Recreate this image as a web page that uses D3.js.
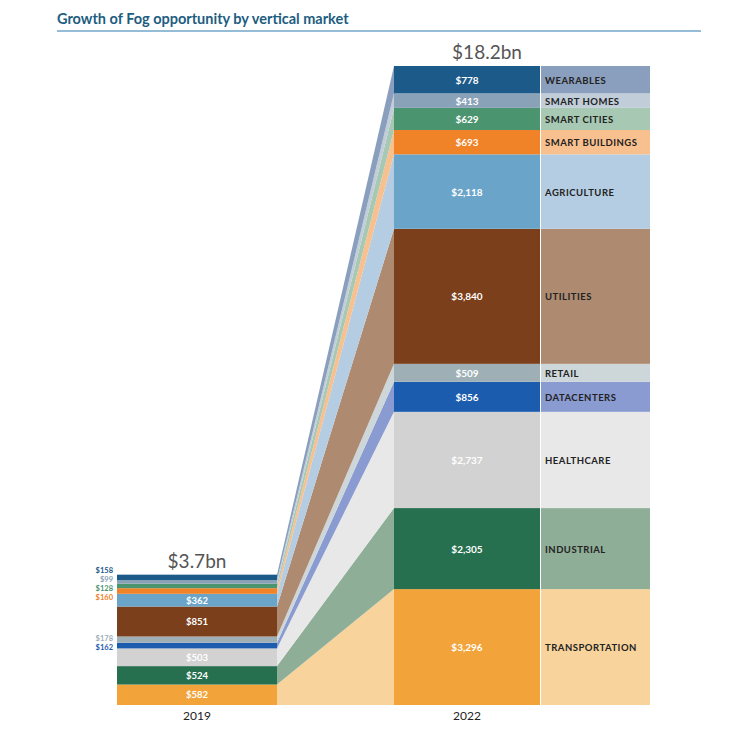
<!DOCTYPE html>
<html><head><meta charset="utf-8">
<script src="https://cdn.jsdelivr.net/npm/d3@7"></script>
<style>body{margin:0;background:#fff}</style></head>
<body><svg id="svg" width="740" height="740"></svg>
<script>
// bottom to top
var markets = ["TRANSPORTATION","INDUSTRIAL","HEALTHCARE","DATACENTERS","RETAIL","UTILITIES","AGRICULTURE","SMART BUILDINGS","SMART CITIES","SMART HOMES","WEARABLES"];
var v2019 = [582,524,503,162,178,851,362,160,128,99,158];
var v2022 = [3296,2305,2737,856,509,3840,2118,693,629,413,778];
var darkColours = ["#f2a33a","#27704f","#d2d2d2","#1b5cae","#9eb0b6","#7b3f1b","#6aa5c9","#f08328","#4b9470","#8aa2b7","#1c5a89"];
var lightColours = ["#f8d49c","#8fae98","#e8e8e8","#8a9bd2","#cdd6d9","#ae8a71","#b5cde2","#f9c08f","#a7c9b3","#c1ced9","#8a9ebd"];
var years = ["2019","2022"];
var totals = ["$3.7bn","$18.2bn"];

var svg = d3.select("#svg");
var fmt = d3.format(",");

svg.append("text").attr("x",57).attr("y",24).attr("font-family","Lato, sans-serif")
  .attr("font-weight","bold").attr("font-size",14.5).attr("fill","#1d5d80")
  .text("Growth of Fog opportunity by vertical market");
svg.append("line").attr("x1",57).attr("x2",701).attr("y1",31).attr("y2",31)
  .attr("stroke","#2a7bb0").attr("stroke-width",1);

var y = d3.scaleLinear().domain([0, d3.sum(v2022)]).range([705, 66]);

function stack(vals) {
  var acc = 0;
  return vals.map(function(v){ var s = acc; acc += v; return [s, acc]; });
}
var s19 = stack(v2019), s22 = stack(v2022);

var b19 = {x0:117, x1:277}, b22 = {x0:394, x1:540}, panel = {x0:540, x1:650};

// connecting bands
markets.forEach(function(m,i){
  var pts = [[b19.x1,y(s19[i][0])],[b22.x0,y(s22[i][0])],[b22.x0,y(s22[i][1])],[b19.x1,y(s19[i][1])]];
  svg.append("polygon").attr("points",pts.map(function(p){return p.join(",");}).join(" "))
    .attr("fill",lightColours[i]);
});

// 2019 bars
var outside = [];
markets.forEach(function(m,i){
  var top = y(s19[i][1]), bot = y(s19[i][0]);
  svg.append("rect").attr("x",b19.x0).attr("width",b19.x1-b19.x0)
    .attr("y",top).attr("height",bot-top).attr("fill",darkColours[i]);
  if (v2019[i] > 300) {
    svg.append("text").attr("x",(b19.x0+b19.x1)/2).attr("y",(top+bot)/2+3.5).attr("text-anchor","middle")
      .attr("font-family","Lato, sans-serif").attr("font-weight","bold").attr("font-size",9.5)
      .attr("fill","#fff").text("$"+fmt(v2019[i]));
  } else {
    outside.push({i:i, y:(top+bot)/2});
  }
});
// small labels left of the bar, grouped and spaced so they don't overlap
outside.sort(function(a,b){return a.y-b.y;});
var gap = 9, groups = [];
outside.forEach(function(o){
  var g = groups[groups.length-1];
  if (g && o.y - g[g.length-1].y < gap) g.push(o); else groups.push([o]);
});
groups.forEach(function(g){
  var mid = d3.mean(g, function(o){return o.y;});
  var start = mid - (g.length-1)*gap/2;
  g.forEach(function(o,k){
    svg.append("text").attr("x",113).attr("y",start + k*gap + 2.8).attr("text-anchor","end")
      .attr("font-family","Lato, sans-serif").attr("font-weight","bold").attr("font-size",7.5)
      .attr("fill",darkColours[o.i]).text("$"+fmt(v2019[o.i]));
  });
});

// 2022 bars + panel
markets.forEach(function(m,i){
  var top = y(s22[i][1]), bot = y(s22[i][0]);
  svg.append("rect").attr("x",b22.x0).attr("width",b22.x1-b22.x0)
    .attr("y",top).attr("height",bot-top).attr("fill",darkColours[i]);
  svg.append("rect").attr("x",panel.x0+1).attr("width",panel.x1-panel.x0-1)
    .attr("y",top).attr("height",bot-top).attr("fill",lightColours[i]);
  svg.append("text").attr("x",(b22.x0+b22.x1)/2).attr("y",(top+bot)/2+4)
    .attr("text-anchor","middle").attr("font-family","Lato, sans-serif").attr("font-weight","bold")
    .attr("font-size",10).attr("fill","#fff").text("$"+fmt(v2022[i]));
  svg.append("text").attr("x",panel.x0+5).attr("y",(top+bot)/2+4)
    .attr("font-family","Lato, sans-serif").attr("font-weight","bold").attr("font-size",9.5)
    .attr("letter-spacing",0.5).attr("fill","#222").text(m);
});

// totals and years
[[b19,s19],[b22,s22]].forEach(function(b,j){
  var top = y(b[1][b[1].length-1][1]);
  svg.append("text").attr("x",(b[0].x0+b[0].x1)/2+(j?20:0)).attr("y",top-7).attr("text-anchor","middle")
    .attr("font-family","Lato, sans-serif").attr("font-size",19).attr("fill","#555").text(totals[j]);
  svg.append("text").attr("x",(b[0].x0+b[0].x1)/2).attr("y",720).attr("text-anchor","middle")
    .attr("font-family","Lato, sans-serif").attr("font-size",12).attr("fill","#222").text(years[j]);
});
</script></body></html>
